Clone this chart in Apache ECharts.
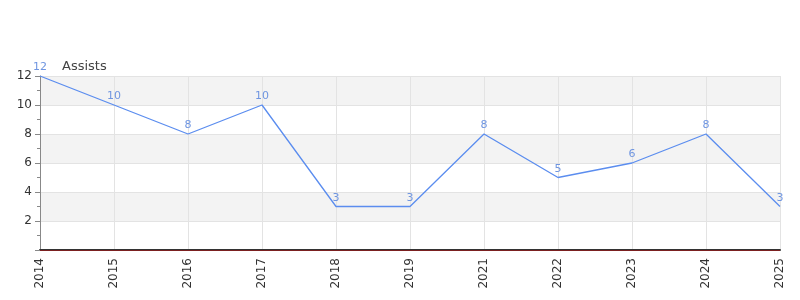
<!DOCTYPE html>
<html>
<head>
<meta charset="utf-8">
<script src="https://cdn.jsdelivr.net/npm/echarts@6/dist/echarts.min.js"></script>
<style>html,body{margin:0;padding:0;background:#fff}#c{width:800px;height:300px}</style>
</head>
<body>
<div id="c"></div>
<script>
const categories = ['2014','2015','2016','2017','2018','2019','2021','2022','2023','2024','2025'];
const assists = [12, 10, 8, 10, 3, 3, 8, 5, 6, 8, 3];
const seriesName = 'Assists';

const chart = echarts.init(document.getElementById('c'), null, {renderer: 'canvas'});
chart.setOption({
  animation: false,
  textStyle: {fontFamily: 'DejaVu Sans'},
  title: {
    text: seriesName,
    left: 57, top: 55,
    textStyle: {fontSize: 13, fontWeight: 'normal', color: '#444', fontFamily: 'DejaVu Sans'}
  },
  grid: {left: 40, right: 20, top: 76, bottom: 50, containLabel: false},
  xAxis: {
    type: 'category',
    data: categories,
    boundaryGap: false,
    axisLine: {lineStyle: {color: '#333', width: 2}},
    axisTick: {show: false},
    axisLabel: {rotate: 90, color: '#333', fontSize: 12, margin: 8},
    splitLine: {show: true, lineStyle: {color: '#e3e3e3'}}
  },
  yAxis: {
    type: 'value',
    min: 0, max: 12, interval: 2,
    axisLine: {show: true, lineStyle: {color: '#888'}},
    axisTick: {show: true, length: 5, lineStyle: {color: '#888'}},
    minorTick: {show: true, splitNumber: 2, length: 3, lineStyle: {color: '#888'}},
    axisLabel: {color: '#333', fontSize: 12, margin: 8, showMinLabel: false},
    splitLine: {show: true, lineStyle: {color: '#e3e3e3'}},
    splitArea: {show: true, areaStyle: {color: ['#ffffff', '#f3f3f3']}}
  },
  series: [{
    name: seriesName,
    type: 'line',
    data: assists,
    symbol: 'circle',
    symbolSize: 0,
    showSymbol: true,
    lineStyle: {color: '#5b8def', width: 1.3},
    itemStyle: {color: '#5b8def'},
    label: {show: true, position: 'top', color: '#6f95e0', fontSize: 11, distance: 3},
    markLine: {
      silent: true, symbol: 'none', label: {show: false},
      lineStyle: {color: '#ff0000', width: 0.6, type: 'solid', opacity: 0.6},
      data: [{yAxis: 0}]
    }
  }]
});
</script>
</body>
</html>
